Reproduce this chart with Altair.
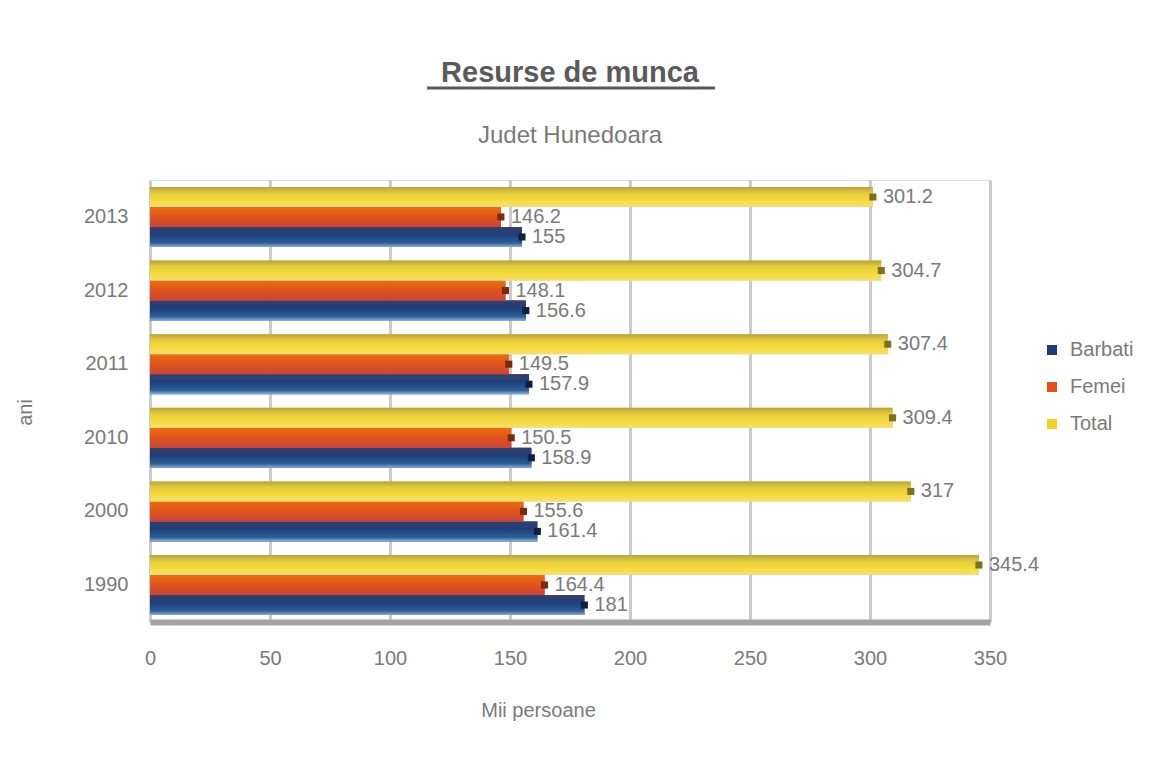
import altair as alt
import pandas as pd

years = ["1990", "2000", "2010", "2011", "2012", "2013"]
barbati = [181.0, 161.4, 158.9, 157.9, 156.6, 155.0]
femei = [164.4, 155.6, 150.5, 149.5, 148.1, 146.2]
total = [345.4, 317.0, 309.4, 307.4, 304.7, 301.2]
series = ["Barbati", "Femei", "Total"]
colors = ["#1f3c78", "#e2521c", "#f2d22e"]
marker_colors = ["#0e1f45", "#7a2a0c", "#7d7020"]

rows = []
for i, y in enumerate(years):
    for s, vals in zip(series, [barbati, femei, total]):
        v = vals[i]
        rows.append({"an": y, "serie": s, "val": v, "lbl": f"{v:g}"})
df = pd.DataFrame(rows)

ysort = list(reversed(years))
off_sort = ["Total", "Femei", "Barbati"]
GRAY = "#7a7a7a"

gradients = {
    "Total": alt.Gradient(gradient="linear", x1=0, x2=0, y1=0, y2=1, stops=[
        alt.GradientStop(offset=0, color="#b9a33e"), alt.GradientStop(offset=0.3, color="#e3cb3e"),
        alt.GradientStop(offset=0.65, color="#f6da3a"), alt.GradientStop(offset=1, color="#f3df7a")]),
    "Femei": alt.Gradient(gradient="linear", x1=0, x2=0, y1=0, y2=1, stops=[
        alt.GradientStop(offset=0, color="#e8700f"), alt.GradientStop(offset=0.45, color="#e2541a"),
        alt.GradientStop(offset=1, color="#c7453a")]),
    "Barbati": alt.Gradient(gradient="linear", x1=0, x2=0, y1=0, y2=1, stops=[
        alt.GradientStop(offset=0, color="#3a3d68"), alt.GradientStop(offset=0.4, color="#1e3f7c"),
        alt.GradientStop(offset=0.8, color="#2d5f95"), alt.GradientStop(offset=1, color="#8fb0d6")]),
}

yenc = alt.Y("an:N", sort=ysort,
             scale=alt.Scale(paddingInner=0.185, paddingOuter=0.095),
             axis=alt.Axis(title="ani", labelFontSize=20, labelColor=GRAY,
                           titleFontSize=20, titleColor=GRAY, titleFontWeight="normal",
                           titlePadding=48, titleY=232, ticks=False, domain=False, labelPadding=22))
offenc = alt.YOffset("serie:N", sort=off_sort)
xenc = alt.X("val:Q", scale=alt.Scale(domain=[0, 350], nice=False),
             axis=alt.Axis(values=[0, 50, 100, 150, 200, 250, 300, 350], title="Mii persoane",
                           labelFontSize=20, labelColor=GRAY, titleFontSize=20,
                           titleColor=GRAY, titleFontWeight="normal", titlePadding=32,
                           titleX=388, labelFlush=False, labelBound=False,
                           labelPadding=26, ticks=False, domain=True, domainColor="#a3a3a3",
                           domainWidth=6, grid=True, gridColor="#cbcbcb", gridWidth=3))

base = alt.Chart(df).encode(y=yenc, yOffset=offenc)

# legend carrier (solid bars, hidden beneath gradient bars)
legend_bars = base.mark_bar().encode(
    x=xenc,
    color=alt.Color("serie:N", scale=alt.Scale(domain=series, range=colors),
                    legend=alt.Legend(title=None, orient="none", legendX=892, legendY=160,
                                      symbolType="square", symbolSize=100, labelFontSize=20,
                                      labelColor=GRAY, rowPadding=17, symbolStrokeWidth=0,
                                      labelOffset=8)),
)

grad_layers = [
    base.transform_filter(alt.datum.serie == s).mark_bar(color=gradients[s]).encode(x="val:Q")
    for s in series
]

markers = base.mark_point(shape="square", filled=True, size=50, opacity=1).encode(
    x="val:Q",
    color=alt.Color("serie:N", scale=alt.Scale(domain=series, range=marker_colors), legend=None),
)

labels = base.mark_text(align="left", dx=10, fontSize=20, color=GRAY).encode(
    x="val:Q",
    text="lbl:N",
)

title_df = pd.DataFrame({"t": ["Resurse de munca"]})
title_txt = alt.Chart(title_df).mark_text(fontSize=29, fontWeight="bold", color="#5a5a5a",
                                         align="center", baseline="alphabetic").encode(
    text="t:N", x=alt.value(420), y=alt.value(-98))
underline = alt.Chart(title_df).mark_rule(color="#5a5a5a", strokeWidth=3).encode(
    x=alt.value(277), x2=alt.value(565), y=alt.value(-92))
sub_df = pd.DataFrame({"t": ["Judet Hunedoara"]})
sub_txt = alt.Chart(sub_df).mark_text(fontSize=24, color=GRAY, align="center",
                                     baseline="middle").encode(
    text="t:N", x=alt.value(420), y=alt.value(-44))

chart = alt.layer(legend_bars, *grad_layers, markers, labels, title_txt, underline, sub_txt
                  ).resolve_scale(color="independent").properties(
    width=840, height=442,
    padding={"left": 142, "top": 172, "right": 155, "bottom": 129},
    autosize=alt.AutoSizeParams(type="none"),
).configure_view(stroke=None).configure(font="Liberation Sans")

chart.save("out.html", embed_options={"renderer": "svg", "actions": False})
